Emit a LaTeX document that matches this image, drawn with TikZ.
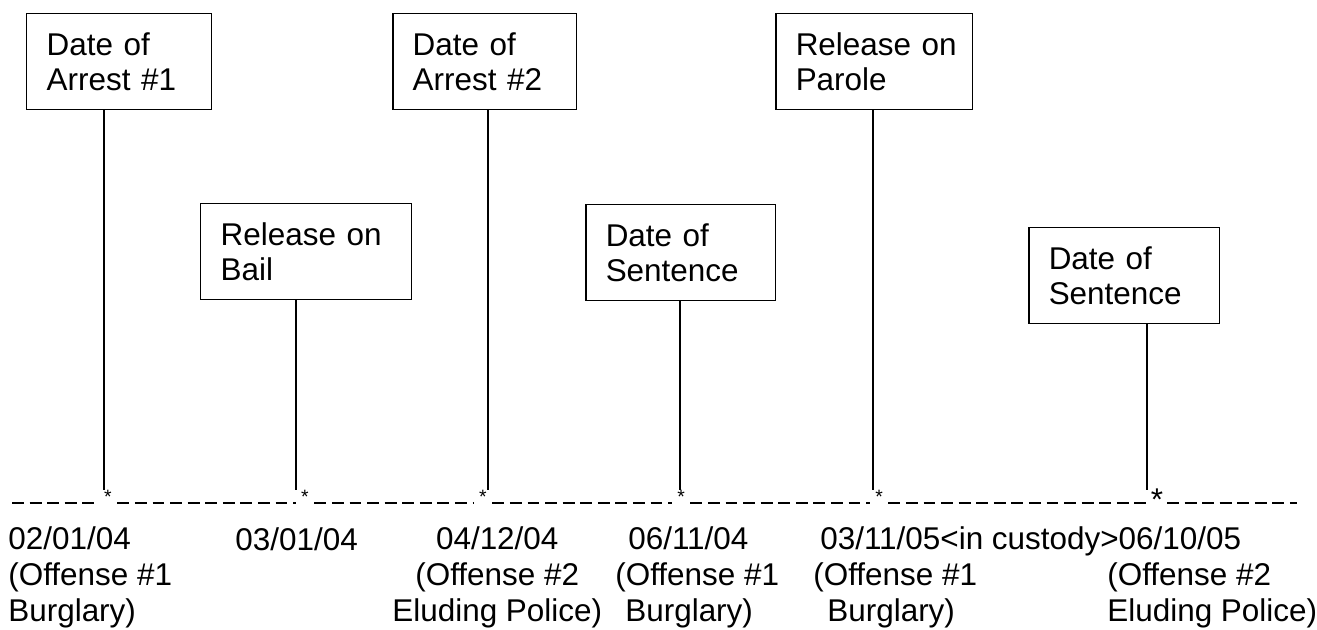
\documentclass[tikz,border=0pt]{standalone}
\usepackage{fontspec}
\setmainfont{Liberation Sans}
\usepackage{tikz}
\usetikzlibrary{calc,positioning}
\definecolor{InkBlack}{HTML}{000000}

\begin{document}
\begin{tikzpicture}[
        x=0.02cm, y=-0.02cm,
        font=\fontsize{17.9pt}{20.4pt}\selectfont,
        eventbox/.style={
            draw=InkBlack,
            line width=0.85pt,
            anchor=north west,
            inner xsep=0.4cm,
            minimum height=1.92cm,
            text width=#1,
            align=left
        },
        stem/.style={draw=InkBlack, line width=0.8pt},
        dashline/.style={draw=InkBlack, line width=1.1pt, dash pattern=on 6.8pt off 3.2pt},
        smallstar/.style={inner xsep=3pt, inner ysep=0pt, font=\fontsize{11pt}{11pt}\selectfont, text height=0.32em, text depth=0.32em},
        bigstar/.style={inner xsep=2pt, inner ysep=0pt, text height=0.8em, text depth=0pt},
        datetext/.style={inner sep=0pt, anchor=base west, align=left}
    ]
        \useasboundingbox (0,0) rectangle (1317,629);

        % event boxes
        \node[eventbox=2.90cm] (arrA) at (26,13) {Date of\\Arrest \#1};
        \node[eventbox=3.42cm] (bail) at (200,203) {Release~on\\Bail};
        \node[eventbox=2.88cm] (arrB) at (392,13) {Date of\\Arrest \#2};
        \node[eventbox=3.00cm] (sentA) at (585,204) {Date of\\Sentence};
        \node[eventbox=3.14cm] (parole) at (775,13) {Release~on\\Parole};
        \node[eventbox=3.02cm] (sentB) at (1028,227) {Date of\\Sentence};

        % stem ends
        \coordinate (e1) at (104,490);
        \coordinate (e2) at (296,490);
        \coordinate (e3) at (488,490);
        \coordinate (e4) at (680,490);
        \coordinate (e5) at (873,490);
        \coordinate (e6) at (1147,490);

        \draw[stem] (e1 |- arrA.south) -- (e1);
        \draw[stem] (e2 |- bail.south) -- (e2);
        \draw[stem] (e3 |- arrB.south) -- (e3);
        \draw[stem] (e4 |- sentA.south) -- (e4);
        \draw[stem] (e5 |- parole.south) -- (e5);
        \draw[stem] (e6 |- sentB.south) -- (e6);

        % time line
        \coordinate (tl0) at (12,503);
        \node[smallstar] (s1) at (108,503) {*};
        \node[smallstar] (s2) at (305,503) {*};
        \node[smallstar] (s3) at (483,503) {*};
        \node[smallstar] (s4) at (681,503) {*};
        \node[smallstar] (s5) at (879,503) {*};
        \node[bigstar] (s6) at (1157,503) {*};
        \coordinate (tl7) at (1297,503);

        \draw[dashline] (tl0) -- (s1.west);
        \draw[dashline] (s1.east) -- (s2.west);
        \draw[dashline] (s2.east) -- (s3.west);
        \draw[dashline] (s3.east) -- (s4.west);
        \draw[dashline] (s4.east) -- (s5.west);
        \draw[dashline] (s5.east) -- (s6.west);
        \draw[dashline] (s6.east) -- (tl7);

        % dates
        \node[datetext] (d1) at (8,621) {02/01/04\\(Offense \#1\\Burglary)};
        \node[datetext] (d2) at (235,550) {03/01/04};
        \node[datetext, align=center] (d3) at (392,621) {04/12/04\\(Offense \#2\\Eluding Police)};
        \node[datetext] (d4) at (615,621) {\hspace*{0.26cm}06/11/04\\(Offense \#1\\\hspace*{0.2cm}Burglary)};
        \node[datetext] (d5) at (813,621) {\hspace*{0.14cm}03/11/05<in custody>06/10/05\\(Offense \#1\\\hspace*{0.28cm}Burglary)};
        \node[datetext] (d6) at (1107,621) {(Offense \#2\\Eluding Police)};
    \end{tikzpicture}
\end{document}
